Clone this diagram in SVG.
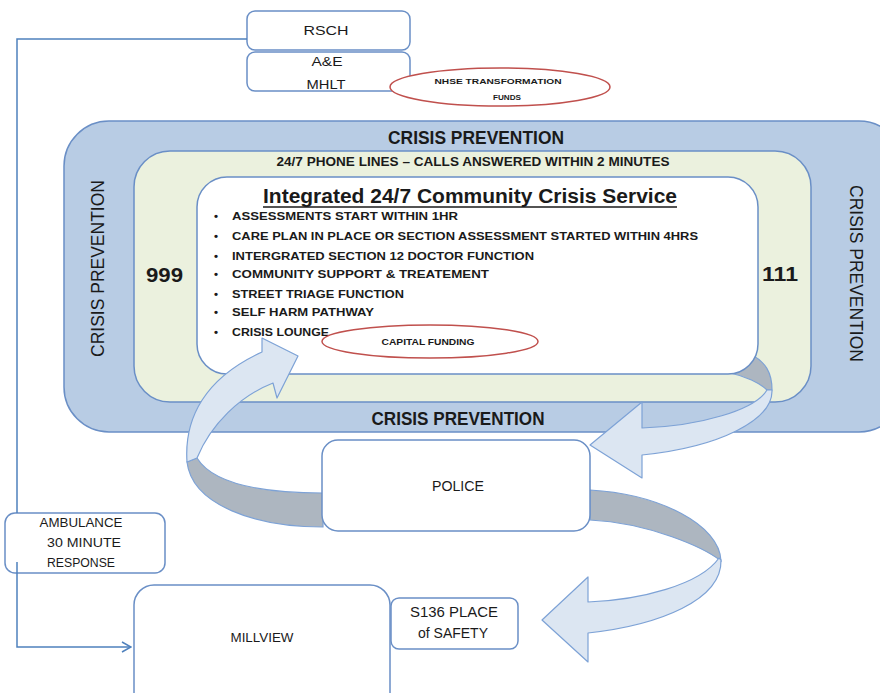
<svg xmlns="http://www.w3.org/2000/svg" width="880" height="693" viewBox="0 0 880 693">
  <defs>
    <style>
      .box { fill: #ffffff; stroke: #6a8fc6; stroke-width: 1.5; }
      .txt { font-family: "Liberation Sans", Arial, sans-serif; fill: #1a1a1a; }
      .b { font-weight: bold; }
      .c { text-anchor: middle; }
      .fund { fill: none; stroke: #c0504d; stroke-width: 1.5; }
      .band { fill: #dce6f2; stroke: #7da2d6; stroke-width: 1.2; stroke-linejoin: round; }
      .under { fill: #adb6c0; stroke: #7da2d6; stroke-width: 1.2; }
      .link { fill: none; stroke: #4f81bd; stroke-width: 1.5; }
    </style>
    <marker id="openArrow" viewBox="0 0 12 12" refX="11" refY="6" markerWidth="12" markerHeight="12" markerUnits="userSpaceOnUse" orient="auto">
      <path d="M2,1 L11,6 L2,11" fill="none" stroke="#4f81bd" stroke-width="1.5"/>
    </marker>
  </defs>

  <rect width="880" height="693" fill="#ffffff"/>

  <!-- Crisis prevention frame -->
  <g id="crisis-prevention">
    <rect x="64" y="121" width="840" height="311" rx="45" fill="#b8cce4" stroke="#6a8fc6" stroke-width="1.5"/>
    <text class="txt b c" x="476" y="144" font-size="18" textLength="176" lengthAdjust="spacingAndGlyphs">CRISIS PREVENTION</text>
    <text class="txt b c" x="458" y="425" font-size="18" textLength="173" lengthAdjust="spacingAndGlyphs">CRISIS PREVENTION</text>
    <text class="txt c" transform="translate(104,268.5) rotate(-90)" font-size="19" textLength="177" lengthAdjust="spacingAndGlyphs">CRISIS PREVENTION</text>
    <text class="txt c" transform="translate(850,273.5) rotate(90)" font-size="19" textLength="177" lengthAdjust="spacingAndGlyphs">CRISIS PREVENTION</text>
  </g>

  <!-- Phone lines ring -->
  <g id="phone-lines">
    <rect x="134" y="151" width="677" height="251" rx="36" fill="#ebf1de" stroke="#6a8fc6" stroke-width="1.5"/>
    <text class="txt b c" x="473" y="166" font-size="12.5" textLength="393" lengthAdjust="spacingAndGlyphs">24/7 PHONE LINES – CALLS ANSWERED WITHIN 2 MINUTES</text>
    <text class="txt b" x="146" y="282" font-size="21" textLength="37" lengthAdjust="spacingAndGlyphs">999</text>
    <text class="txt b" x="762" y="281" font-size="21" textLength="36" lengthAdjust="spacingAndGlyphs">111</text>
  </g>

  <!-- Rear face of the right-hand curved arrow -->
  <path class="under" d="M752,355 C765,362 772,372 772,390 L767,390 C760,383 745,376 730,373 Z"/>

  <!-- Integrated community crisis service -->
  <g id="crisis-service">
    <rect x="197" y="177" width="561" height="197" rx="30" fill="#ffffff" stroke="#6a8fc6" stroke-width="1.5"/>
    <text class="txt b c" x="470" y="203" font-size="20" textLength="414" lengthAdjust="spacingAndGlyphs">Integrated 24/7 Community Crisis Service</text>
    <line x1="263" y1="207" x2="677" y2="207" stroke="#1a1a1a" stroke-width="1.3"/>
    <g class="txt b" font-size="11.5">
      <text x="214" y="220">•</text>
      <text x="232" y="220" textLength="226" lengthAdjust="spacingAndGlyphs">ASSESSMENTS START WITHIN 1HR</text>
      <text x="214" y="240">•</text>
      <text x="232" y="240" textLength="466" lengthAdjust="spacingAndGlyphs">CARE PLAN IN PLACE OR  SECTION ASSESSMENT STARTED WITHIN 4HRS</text>
      <text x="214" y="260">•</text>
      <text x="232" y="260" textLength="302" lengthAdjust="spacingAndGlyphs">INTERGRATED SECTION 12 DOCTOR  FUNCTION</text>
      <text x="214" y="278">•</text>
      <text x="232" y="278" textLength="257" lengthAdjust="spacingAndGlyphs">COMMUNITY SUPPORT  &amp; TREATEMENT</text>
      <text x="214" y="298">•</text>
      <text x="232" y="298" textLength="172" lengthAdjust="spacingAndGlyphs">STREET TRIAGE FUNCTION</text>
      <text x="214" y="316">•</text>
      <text x="232" y="316" textLength="142" lengthAdjust="spacingAndGlyphs">SELF HARM PATHWAY</text>
      <text x="214" y="336">•</text>
      <text x="232" y="336" textLength="97" lengthAdjust="spacingAndGlyphs">CRISIS LOUNGE</text>
    </g>
  </g>

  <!-- Capital funding -->
  <g id="capital-funding">
    <ellipse class="fund" cx="430" cy="341.5" rx="108" ry="16.5"/>
    <text class="txt b c" x="428" y="345" font-size="8.5" textLength="93" lengthAdjust="spacingAndGlyphs">CAPITAL  FUNDING</text>
  </g>

  <!-- Curved flow arrows -->
  <g id="flow-arrows">
    <!-- Police back up to the crisis service -->
    <path class="under" d="M197,458 C213,484 262,493 323,493 L323,527 C255,527 192,505 187,462 Z"/>
    <path class="band" d="M187,462 C184,418 205,378 262,352 L262,338 L298,356 L277,398 L273,383 C240,396 211,424 197,458 Z"/>
    <!-- Crisis service out to police -->
    <path class="band" d="M772,390 C773,420 720,447 642,455 L642,478 L590,445 L642,402 L642,428 C700,426 755,410 767,390 Z"/>
    <!-- Police round to the place of safety -->
    <path class="under" d="M590,490 C660,494 720,525 721,561 C705,548 650,523 590,520 Z"/>
    <path class="band" d="M721,560 C722,600 660,625 588,633 L588,662 L542,620 L588,577 L588,602 C640,600 700,585 719,558 Z"/>
  </g>

  <!-- Hospital -->
  <g id="rsch">
    <rect class="box" x="247" y="11" width="163" height="39" rx="8"/>
    <text class="txt c" x="326" y="35" font-size="13" textLength="45" lengthAdjust="spacingAndGlyphs">RSCH</text>
  </g>
  <g id="ae-mhlt">
    <rect class="box" x="247" y="52" width="163" height="39" rx="8"/>
    <text class="txt c" x="327" y="66" font-size="13" textLength="31" lengthAdjust="spacingAndGlyphs">A&amp;E</text>
    <text class="txt c" x="326" y="89" font-size="13" textLength="39" lengthAdjust="spacingAndGlyphs">MHLT</text>
  </g>
  <g id="nhse-funds">
    <ellipse class="fund" cx="500" cy="87" rx="110" ry="19" style="fill:#ffffff"/>
    <text class="txt b c" x="498" y="84" font-size="8" textLength="127" lengthAdjust="spacingAndGlyphs">NHSE TRANSFORMATION</text>
    <text class="txt b c" x="507" y="100" font-size="8" textLength="28" lengthAdjust="spacingAndGlyphs">FUNDS</text>
  </g>

  <!-- Police -->
  <g id="police">
    <rect class="box" x="322" y="440" width="268" height="91" rx="16"/>
    <text class="txt c" x="458" y="491" font-size="14" textLength="52" lengthAdjust="spacingAndGlyphs">POLICE</text>
  </g>

  <!-- Ambulance -->
  <g id="ambulance">
    <rect class="box" x="5" y="513" width="160" height="60" rx="10"/>
    <text class="txt c" x="81" y="526.5" font-size="12.5" textLength="83" lengthAdjust="spacingAndGlyphs">AMBULANCE</text>
    <text class="txt c" x="84" y="546.5" font-size="12.5" textLength="74" lengthAdjust="spacingAndGlyphs">30 MINUTE</text>
    <text class="txt c" x="81" y="566.5" font-size="12.5" textLength="68" lengthAdjust="spacingAndGlyphs">RESPONSE</text>
  </g>

  <!-- Millview -->
  <g id="millview">
    <rect class="box" x="134" y="585" width="256" height="130" rx="20"/>
    <text class="txt c" x="262" y="642" font-size="12" textLength="63" lengthAdjust="spacingAndGlyphs">MILLVIEW</text>
  </g>
  <g id="s136">
    <rect class="box" x="391" y="598" width="127" height="51" rx="8"/>
    <text class="txt c" x="454" y="617" font-size="14" textLength="88" lengthAdjust="spacingAndGlyphs">S136 PLACE</text>
    <text class="txt c" x="453" y="638" font-size="14" textLength="70" lengthAdjust="spacingAndGlyphs">of SAFETY</text>
  </g>

  <!-- Connectors -->
  <g id="connectors">
    <path class="link" d="M247,39 H17 V513"/>
    <path class="link" d="M17,562 V647 H131" marker-end="url(#openArrow)"/>
  </g>
</svg>
